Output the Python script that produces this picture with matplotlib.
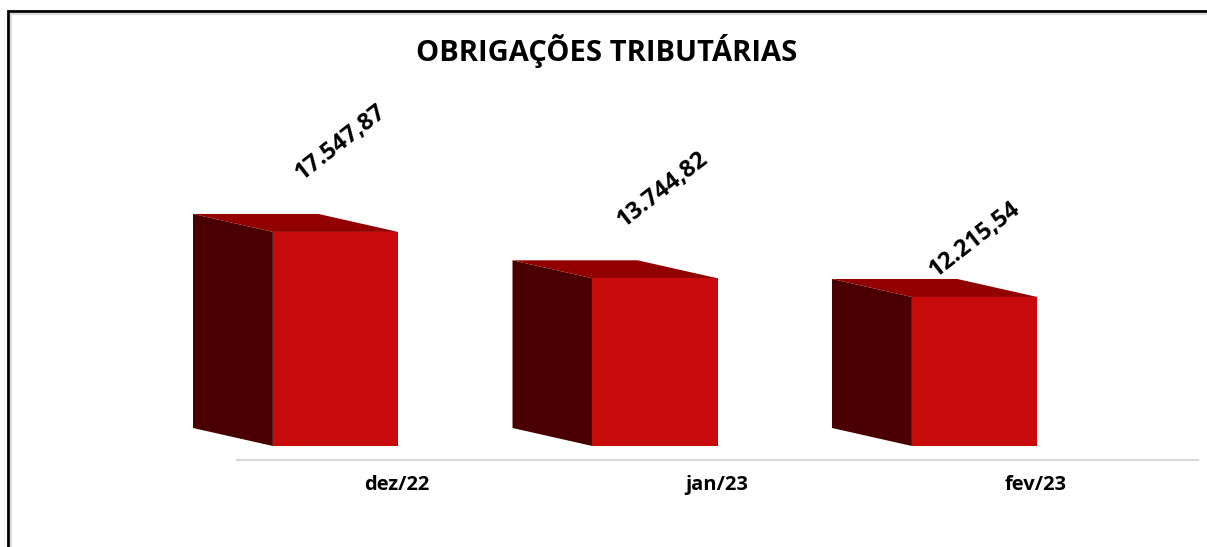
"""
plot.py — pseudo-3D bar chart "OBRIGAÇÕES TRIBUTÁRIAS" (dez/22 .. fev/23).
"""
import matplotlib
matplotlib.use("Agg")
import matplotlib.pyplot as plt
from matplotlib.patches import Polygon, Rectangle
import numpy as np

plt.rcParams["font.family"] = ["Open Sans", "DejaVu Sans"]

# ---- data -------------------------------------------------------------
categories = ["dez/22", "jan/23", "fev/23"]
values = [17547.87, 13744.82, 12215.54]
title = "OBRIGAÇÕES TRIBUTÁRIAS"


def fmt_br(v):
    s = f"{v:,.2f}"
    return s.replace(",", "X").replace(".", ",").replace("X", ".")


# ---- style ------------------------------------------------------------
FRONT = "#c70a0a"
SIDE = "#4a0000"
TOP = "#920000"
HALF_W = 0.196     # half width of the front face (category units)
DEPTH_X = 0.250    # depth of the box, towards the left
DEPTH_Y = 1475     # depth of the box, upwards (value units)
TICK_SHIFT = 0.192 # excel puts the category label under the right edge
LABEL_OFFSETS = [(5, 89), (8, 89), (0, 57)]  # value labels, pixels above the bar

W, H = 1207, 547
fig = plt.figure(figsize=(W / 100, H / 100), dpi=100)
ax = fig.add_axes([237 / W, (H - 460) / H, (1198 - 237) / W, 360 / H])
ax.set_xlim(-0.3083, 2.6995)
ax.set_ylim(-1148, 28361)

x = np.arange(len(values))
for xi, v, off in zip(x, values, LABEL_OFFSETS):
    x0, x1 = xi - HALF_W, xi + HALF_W
    side = [(x0, 0), (x0, v), (x0 - DEPTH_X, v + DEPTH_Y), (x0 - DEPTH_X, DEPTH_Y)]
    top = [(x0, v), (x1, v), (x1 - DEPTH_X, v + DEPTH_Y), (x0 - DEPTH_X, v + DEPTH_Y)]
    ax.add_patch(Polygon(side, closed=True, facecolor=SIDE, edgecolor="none", clip_on=False))
    ax.add_patch(Polygon(top, closed=True, facecolor=TOP, edgecolor="none", clip_on=False))
    ax.bar(xi, v, width=2 * HALF_W, color=FRONT, edgecolor="none", clip_on=False)
    ax.annotate(fmt_br(v), (xi, v), xytext=off, textcoords="offset pixels",
                ha="center", va="center", rotation=38, rotation_mode="anchor",
                fontsize=17, fontweight="bold", color="black")

ax.set_xticks(x + TICK_SHIFT)
ax.set_xticklabels(categories, fontsize=14.5, fontweight="bold")
ax.tick_params(axis="x", length=0, pad=11)
ax.set_yticks([])
for name in ("left", "right", "top"):
    ax.spines[name].set_visible(False)
ax.spines["bottom"].set_color("#d9d9d9")
ax.spines["bottom"].set_linewidth(1.5)
ax.patch.set_visible(False)

fig.text(607 / W, 1 - 51 / H, title, ha="center", va="center",
         fontsize=21, fontweight="bold")

# chart-area frame as in the pasted screenshot
fig.add_artist(Rectangle((8 / W, -0.2), 1.2, 1 - 11 / H + 0.2, transform=fig.transFigure,
                         fill=False, edgecolor="black", linewidth=2))
fig.add_artist(Rectangle((11 / W, -0.2), 1.2, 1 - 14 / H + 0.2, transform=fig.transFigure,
                         fill=False, edgecolor="#dddddd", linewidth=1.5))

fig.savefig("out.png", dpi=100)
